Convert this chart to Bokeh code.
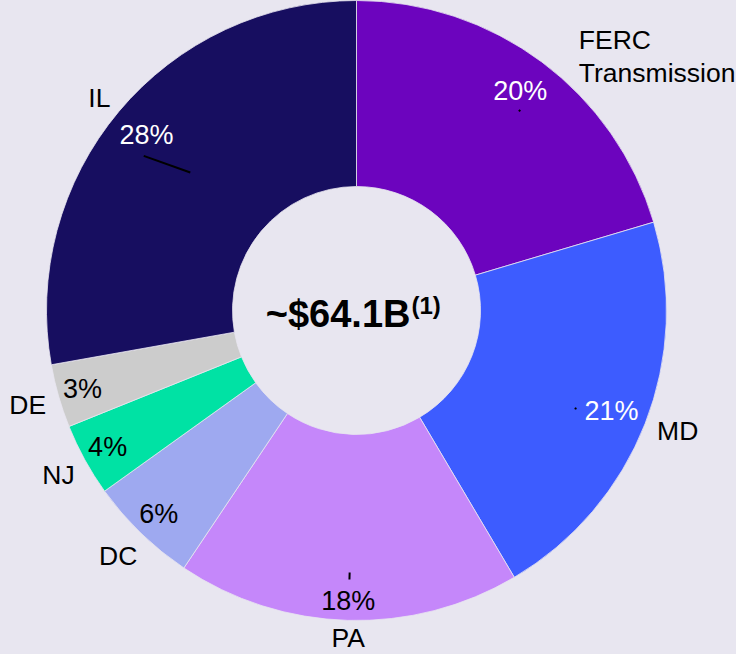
import numpy as np
from bokeh.plotting import figure
from bokeh.models import Range1d, ColumnDataSource
from bokeh.embed import file_html
from bokeh.resources import INLINE
from bokeh.core.properties import value

# ---------------- data ----------------
segments = ["FERC\nTransmission", "MD", "PA", "DC", "NJ", "DE", "IL"]
shares = [20.4, 21.1, 17.9, 5.7, 3.8, 3.3, 27.8]
pct_labels = ["20%", "21%", "18%", "6%", "4%", "3%", "28%"]
total_label = "~$64.1B"
footnote = "(1)"

# ---------------- styles / layout ----------------
colors = ["#6C04BE", "#3D5CFF", "#C587FA", "#9EA9F0", "#00E2A4", "#CCCCCC", "#170E60"]
pct_colors = ["#FFFFFF", "#FFFFFF", "#000000", "#000000", "#000000", "#000000", "#FFFFFF"]
pct_radius = [274, 274, 291, 284, 284, 285, 274]
name_align = ["left", "left", "center", "right", "right", "right", "right"]
name_radius = 325
name_dx = [28, -2, 1, 7, 3, 2, 3]
name_dy = [-7, -2, -3, -12, -8, -5, 4]
# small leader marks: (r0, deg0, r1, deg1), degrees clockwise from 12 o'clock
leaders = [(257, 39.2, 259, 39.2), (239, 114.1, 241, 114.1), (262, 181.5, 269, 181.5),
           (216, 309.7, 263, 306.0)]
BG = "#E8E6F0"
FONT = "Liberation Sans"

W, H = 736, 654
CX, CY = 356, 310
R_OUT, R_IN = 310, 124

vals = np.array(shares, dtype=float)
frac = vals / vals.sum()
cum_end = np.cumsum(frac)
cum_start = cum_end - frac
mid = (cum_start + cum_end) / 2

start_angle = np.pi / 2 - 2 * np.pi * cum_start
end_angle = np.pi / 2 - 2 * np.pi * cum_end


def polar(r, f):
    r = np.asarray(r, dtype=float)
    return r * np.sin(2 * np.pi * f), r * np.cos(2 * np.pi * f)


p = figure(width=W, height=H,
           x_range=Range1d(-CX, W - CX), y_range=Range1d(-(H - CY), CY),
           output_backend="svg", toolbar_location=None, min_border=0,
           x_axis_type=None, y_axis_type=None,
           background_fill_color=BG, border_fill_color=BG, outline_line_color=None)
p.grid.visible = False

wsrc = ColumnDataSource(dict(start=start_angle, end=end_angle, color=colors))
p.annular_wedge(x=0, y=0, inner_radius=R_IN, outer_radius=R_OUT,
                start_angle="start", end_angle="end", direction="clock",
                fill_color="color", line_color=BG, line_width=0.8, source=wsrc)

# percentage labels
px, py = polar(pct_radius, mid)
psrc = ColumnDataSource(dict(x=px, y=py, t=pct_labels, c=pct_colors))
p.text(x="x", y="y", text="t", text_color="c", source=psrc,
       text_font=value(FONT), text_font_size="27px",
       text_align="center", text_baseline="middle")

# name labels
nx, ny = polar([name_radius] * len(segments), mid)
nx = nx + np.array(name_dx)
ny = ny + np.array(name_dy)
nsrc = ColumnDataSource(dict(x=nx, y=ny, t=segments, a=name_align))
p.text(x="x", y="y", text="t", text_align="a", source=nsrc,
       text_font=value(FONT), text_font_size="26.5px", text_color="#000000",
       text_baseline="middle", text_line_height=1.1)

# leader marks
lx0, ly0, lx1, ly1 = [], [], [], []
for r0, d0, r1, d1 in leaders:
    a, b = polar(r0, d0 / 360.0)
    c, d = polar(r1, d1 / 360.0)
    lx0.append(float(a)); ly0.append(float(b)); lx1.append(float(c)); ly1.append(float(d))
p.segment(x0=lx0, y0=ly0, x1=lx1, y1=ly1, line_color="#000000", line_width=2)

# center total
p.text(x=[54], y=[-3], text=[total_label], text_font=value(FONT),
       text_font_size="38px", text_font_style="bold", text_color="#000000",
       text_align="right", text_baseline="middle")
p.text(x=[55], y=[5], text=[footnote], text_font=value(FONT),
       text_font_size="24px", text_font_style="bold", text_color="#000000",
       text_align="left", text_baseline="middle")

html = file_html(p, INLINE)
html = html.replace("<head>", "<head><style>body{background:%s;}</style>" % BG, 1)
open("out.html", "w").write(html)
